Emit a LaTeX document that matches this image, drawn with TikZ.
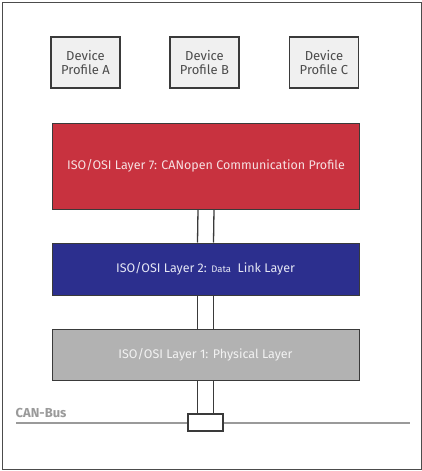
\documentclass[tikz,border=0pt]{standalone}
\usepackage{fontspec}
\setmainfont{Fira Sans}
\definecolor{lred}{HTML}{C8323F}
\definecolor{lblue}{HTML}{2C2F8E}
\definecolor{lgray}{HTML}{B2B2B2}
\definecolor{dev}{HTML}{F0F0F0}
\definecolor{edge}{HTML}{3A3A3A}
\definecolor{redtxt}{HTML}{F6E0E2}
\definecolor{bluetxt}{HTML}{E4E6F4}
\definecolor{graytxt}{HTML}{F2F2F2}
\definecolor{busgray}{HTML}{9A9A9A}
\begin{document}
\begin{tikzpicture}[x=1pt,y=-1pt,
  devbox/.style={draw=edge,line width=1.4pt,fill=dev,minimum width=69pt,minimum height=51pt,inner sep=0pt,align=center,font=\fontsize{13}{14}\selectfont,text=black!70},
  layerbox/.style={draw=edge,line width=1pt,minimum width=307pt,inner sep=0pt,font=\fontsize{12.5}{14}\selectfont},
  link/.style={draw=edge,line width=1.3pt}]
\useasboundingbox (0,0) rectangle (422,471);
\draw[black!70,line width=0.9pt] (2,2) rectangle (421,469);
\node[devbox] (pa) at (85.5,62.5) {Device\\Profile A};
\node[devbox] (pb) at (204.5,62.5) {Device\\Profile B};
\node[devbox] (pc) at (324,62.5) {Device\\Profile C};
\node[layerbox,fill=lred,minimum height=86pt,text=redtxt] (l7) at (206,166) {ISO/OSI Layer 7: CANopen Communication Profile};
\node[layerbox,fill=lblue,minimum height=52pt,text=bluetxt] (l2) at (205.5,269) {ISO/OSI Layer 2: {\fontsize{9.5}{10}\selectfont Data}\ \ Link Layer};
\node[layerbox,fill=lgray,minimum height=51pt,text=graytxt] (l1) at (205.5,354.5) {ISO/OSI Layer 1: Physical Layer};
\coordinate (busL) at (16,423);
\coordinate (busR) at (410,423);
\draw[busgray,line width=2.8pt] (busL) -- (busR);
\node[anchor=base west,inner sep=0pt,text=busgray,font=\fontsize{13}{14}\selectfont\bfseries] (canlbl) at (15.5,417) {CAN-Bus};
\node[draw=edge,line width=1.3pt,fill=white,minimum width=35pt,minimum height=17pt,inner sep=0pt] (tap) at (205.5,422.5) {};
\foreach \s in {-8,8}{
  \draw[link] ([xshift=\s pt]l7.south) -- ([xshift=\s pt]l2.north);
  \draw[link] ([xshift=\s pt]l2.south) -- ([xshift=\s pt]l1.north);
  \draw[link] ([xshift=\s pt]l1.south) -- ([xshift=\s pt]tap.north);
}
\end{tikzpicture}
\end{document}
